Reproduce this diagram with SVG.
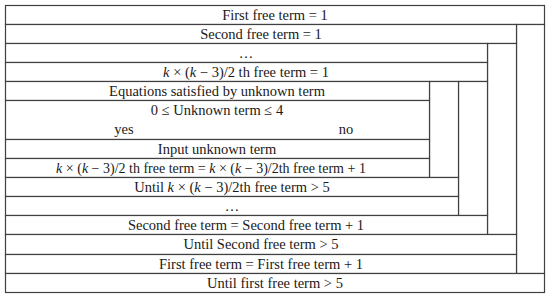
<svg xmlns="http://www.w3.org/2000/svg" width="550" height="298" viewBox="0 0 550 298">
<style>
.b{fill:#fff;stroke:#404040;stroke-width:1.2}
.t{font-family:"Liberation Serif","Times New Roman",serif;font-size:14.5px;fill:#1a1a1a;text-anchor:middle}
.i{font-style:italic}
</style>
<rect x="0" y="0" width="550" height="298" fill="#fff"/>
<g id="n1"><rect class="b" x="5.5" y="5.5" width="539" height="19"/><text class="t" x="275" y="19.5">First free term = 1</text></g>
<g id="loop1"><rect class="b" x="516.5" y="24.5" width="28" height="249"/></g>
<g id="n2"><rect class="b" x="5.5" y="24.5" width="511" height="19"/><text class="t" x="261" y="38.5">Second free term = 1</text></g>
<g id="loop2"><rect class="b" x="487.5" y="43.5" width="29" height="191"/></g>
<g id="n3"><rect class="b" x="5.5" y="43.5" width="482" height="19"/><text class="t" x="246" y="57.5">…</text></g>
<g id="n4"><rect class="b" x="5.5" y="62.5" width="482" height="19"/><text class="t" x="246" y="76.5"><tspan class="i">k</tspan> × (<tspan class="i">k</tspan> − 3)/2 th free term = 1</text></g>
<g id="loop3"><rect class="b" x="458.5" y="81.5" width="29" height="134"/></g>
<g id="loop4"><rect class="b" x="429.5" y="81.5" width="29" height="96"/></g>
<g id="n5"><rect class="b" x="5.5" y="81.5" width="424" height="19"/><text class="t" x="217" y="95.5">Equations satisfied by unknown term</text></g>
<g id="n6"><rect class="b" x="5.5" y="100.5" width="424" height="39"/><text class="t" x="217" y="115">0 ≤ Unknown term ≤ 4</text><text class="t" x="124" y="134">yes</text><text class="t" x="346" y="134">no</text></g>
<g id="n7"><rect class="b" x="5.5" y="139.5" width="424" height="19"/><text class="t" x="217" y="153.5">Input unknown term</text></g>
<g id="n8"><rect class="b" x="5.5" y="158.5" width="424" height="19"/><text class="t" x="211" y="172.5" style="font-size:14px"><tspan class="i">k</tspan> × (<tspan class="i">k</tspan> − 3)/2 th free term = <tspan class="i">k</tspan> × (<tspan class="i">k</tspan> − 3)/2th free term + 1</text></g>
<g id="n9"><rect class="b" x="5.5" y="177.5" width="453" height="19"/><text class="t" x="232" y="191.5">Until <tspan class="i">k</tspan> × (<tspan class="i">k</tspan> − 3)/2th free term &gt; 5</text></g>
<g id="n10"><rect class="b" x="5.5" y="196.5" width="453" height="19"/><text class="t" x="232" y="210.5">…</text></g>
<g id="n11"><rect class="b" x="5.5" y="215.5" width="482" height="19"/><text class="t" x="246" y="229.5">Second free term = Second free term + 1</text></g>
<g id="n12"><rect class="b" x="5.5" y="234.5" width="511" height="20"/><text class="t" x="261" y="249">Until Second free term &gt; 5</text></g>
<g id="n13"><rect class="b" x="5.5" y="254.5" width="511" height="19"/><text class="t" x="261" y="268.5">First free term = First free term + 1</text></g>
<g id="n14"><rect class="b" x="5.5" y="273.5" width="539" height="19"/><text class="t" x="275" y="287.5">Until first free term &gt; 5</text></g>
<g id="connectors"></g>
</svg>
